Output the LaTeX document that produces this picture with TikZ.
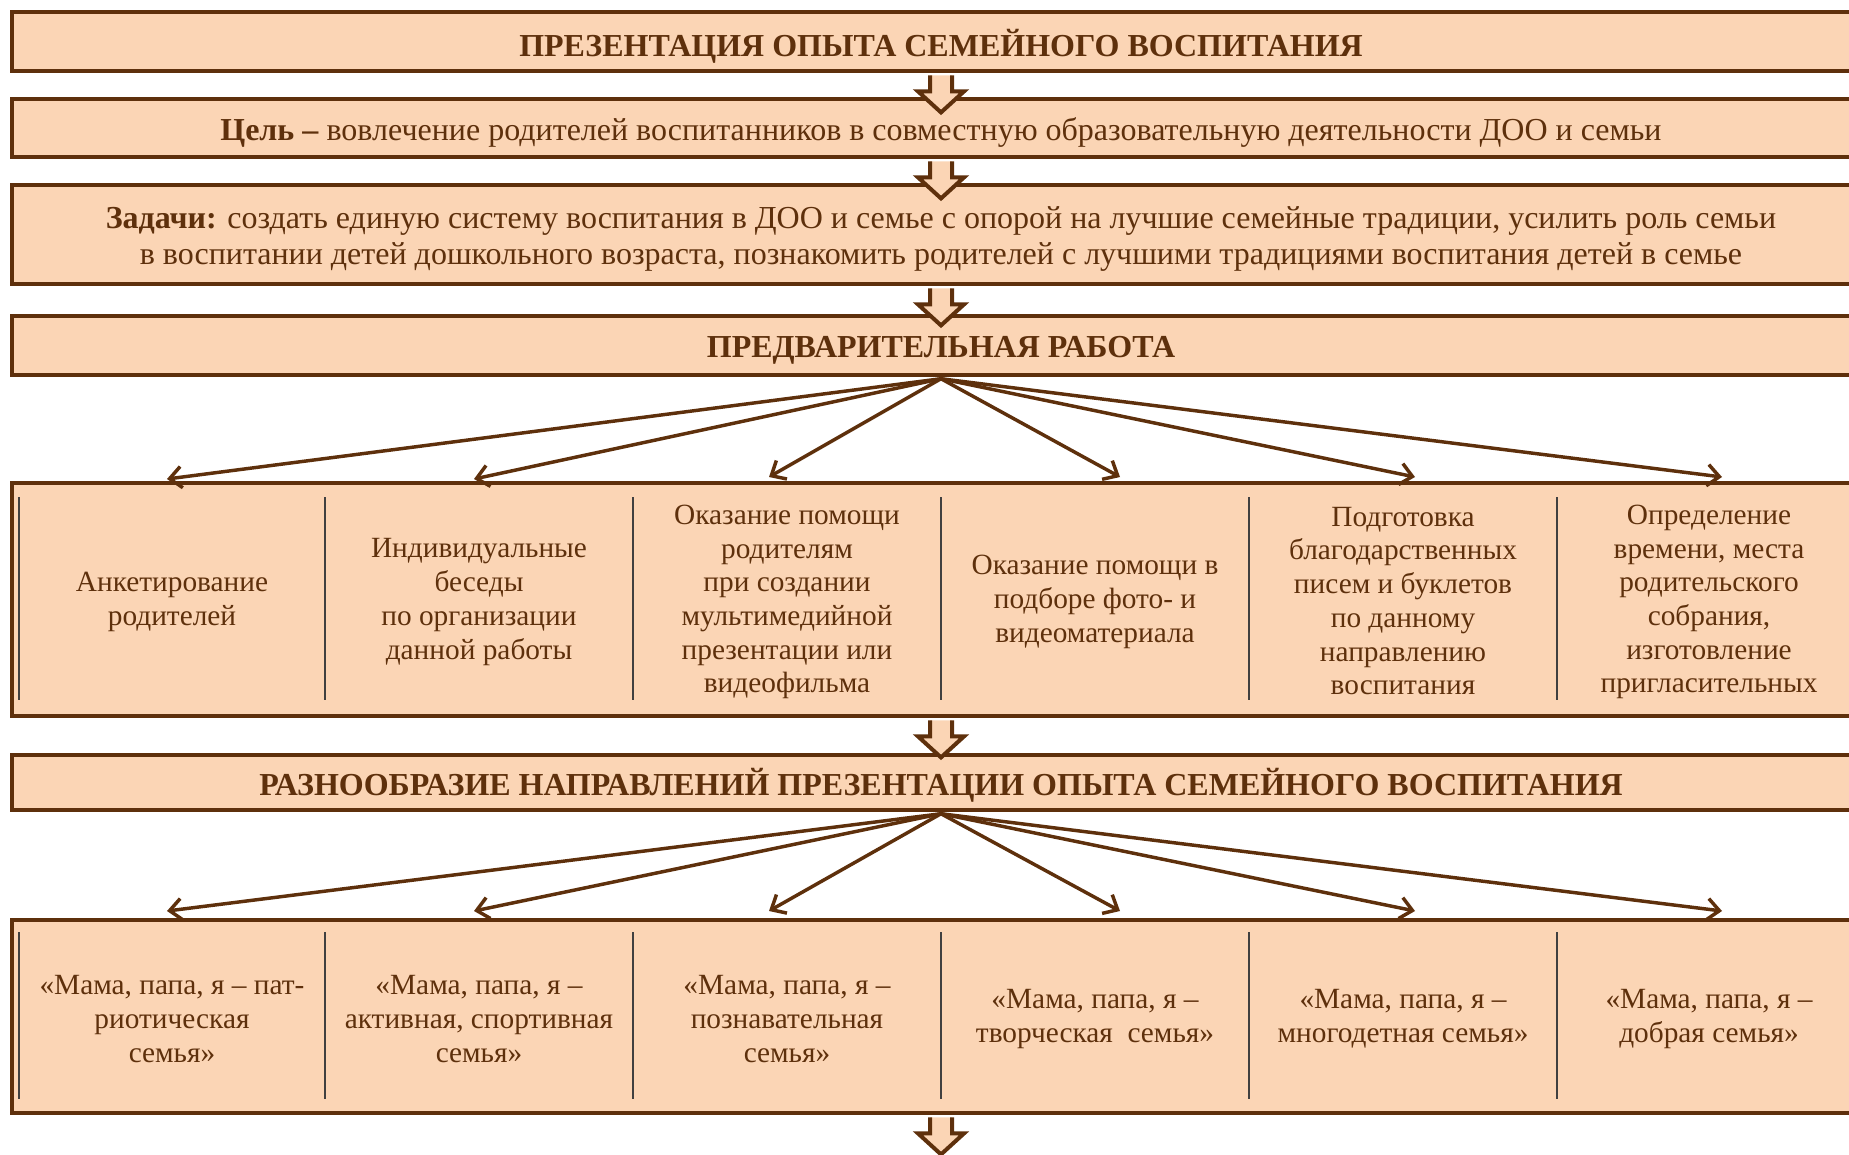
\documentclass[tikz,border=0pt]{standalone}
\usepackage{fontspec}
\setmainfont{Liberation Serif}
\usetikzlibrary{arrows.meta}
\definecolor{brn}{HTML}{5E300C}
\definecolor{peach}{HTML}{FBD5B5}
\begin{document}
\begin{tikzpicture}[x=0.75pt,y=-0.75pt,
  box/.style={draw=brn, fill=peach, line width=3.6pt, minimum width=1393.5pt, inner sep=0pt},
  btxt/.style={text=brn, font=\fontsize{24}{27.6}\selectfont, align=center, inner sep=0pt},
  cell/.style={text=brn, font=\fontsize{22}{25.3}\selectfont, align=center, inner sep=0pt},
  sepline/.style={draw=black!75, line width=1.1pt},
  fan/.style={draw=brn, line width=2.6pt, -{Straight Barb[length=9pt,width=16pt,line width=2.6pt]}},
  blk/.style={draw=brn, fill=peach, line width=3pt, line join=miter},
]
\useasboundingbox (0,0) rectangle (1849,1154);
\clip (0,0) rectangle (1849,1154);

% main boxes
\node[box, minimum height=44.25pt] (b1) at (941,41.5) {};
\node[box, minimum height=43.5pt] (b2) at (941,128) {};
\node[box, minimum height=74.25pt] (b3) at (941,234.5) {};
\node[box, minimum height=44.25pt] (b4) at (941,345.5) {};
\node[box, minimum height=174.75pt] (r1) at (941,599.5) {};
\node[box, minimum height=41.25pt] (b6) at (941,782.5) {};
\node[box, minimum height=144.75pt] (r2) at (941,1016.5) {};

% box texts
\node[btxt] (t1) at (941,46) {\textbf{ПРЕЗЕНТАЦИЯ ОПЫТА СЕМЕЙНОГО ВОСПИТАНИЯ}};
\node[btxt] (t2) at (941,132) {\textbf{Цель –} вовлечение родителей воспитанников в совместную образовательную деятельности ДОО и семьи};
\node[btxt] (t3) at (941,239) {\textbf{Задачи:} создать единую систему воспитания в ДОО и семье с опорой на лучшие семейные традиции, усилить роль семьи\\
в воспитании детей дошкольного возраста, познакомить родителей с лучшими традициями воспитания детей в семье};
\node[btxt] (t4) at (941,350) {\textbf{ПРЕДВАРИТЕЛЬНАЯ РАБОТА}};
\node[btxt] (t6) at (941,785) {\textbf{РАЗНООБРАЗИЕ НАПРАВЛЕНИЙ ПРЕЗЕНТАЦИИ ОПЫТА СЕМЕЙНОГО ВОСПИТАНИЯ}};

% row 1 cells
\node[cell] (c11) at (172,602) {Анкетирование\\родителей};
\node[cell] (c12) at (479,602) {Индивидуальные\\беседы\\по организации\\данной работы};
\node[cell] (c13) at (787,602) {Оказание помощи\\родителям\\при создании\\мультимедийной\\презентации или\\видеофильма};
\node[cell] (c14) at (1095,602) {Оказание помощи в\\подборе фото- и\\видеоматериала};
\node[cell] (c15) at (1403,601) {Подготовка\\благодарственных\\писем и буклетов\\по данному\\направлению\\воспитания};
\node[cell] (c16) at (1709,602) {Определение\\времени, места\\родительского\\собрания,\\изготовление\\пригласительных};

% row 2 cells
\node[cell] (c21) at (172,1019) {«Мама, папа, я – пат-\\риотическая\\семья»};
\node[cell] (c22) at (479,1019) {«Мама, папа, я –\\активная, спортивная\\семья»};
\node[cell] (c23) at (787,1019) {«Мама, папа, я –\\познавательная\\семья»};
\node[cell] (c24) at (1095,1019) {«Мама, папа, я –\\творческая\ \ семья»};
\node[cell] (c25) at (1403,1019) {«Мама, папа, я –\\многодетная семья»};
\node[cell] (c26) at (1709,1019) {«Мама, папа, я –\\добрая семья»};

% dividers
\foreach \xx in {19,325,633,941,1249,1557} {
  \draw[sepline] (\xx,497) -- (\xx,700);
  \draw[sepline] (\xx,932) -- (\xx,1099);
}

% fan targets
\coordinate (a1) at (167,479);
\coordinate (a2) at (474,479);
\coordinate (a3) at (769,477);
\coordinate (a4) at (1120,477);
\coordinate (a5) at (1415,477);
\coordinate (a6) at (1722,477);
\coordinate (d1) at (167,911);
\coordinate (d2) at (474,911);
\coordinate (d3) at (769,911);
\coordinate (d4) at (1120,911);
\coordinate (d5) at (1415,911);
\coordinate (d6) at (1722,911);
\foreach \i in {1,...,6} {
  \draw[fan] ([yshift=-1pt]b4.south) -- (a\i);
  \draw[fan] ([yshift=-1pt]b6.south) -- (d\i);
}

% block arrows
\foreach \n in {b1,b2,b3,r1,r2} {
  \path[blk] ([shift={(-11,2)}]\n.south) -- ++(0,16) -- ++(-12,0) -- ++(23,21) -- ++(23,-21) -- ++(-12,0) -- ++(0,-16);
}
\end{tikzpicture}
\end{document}
